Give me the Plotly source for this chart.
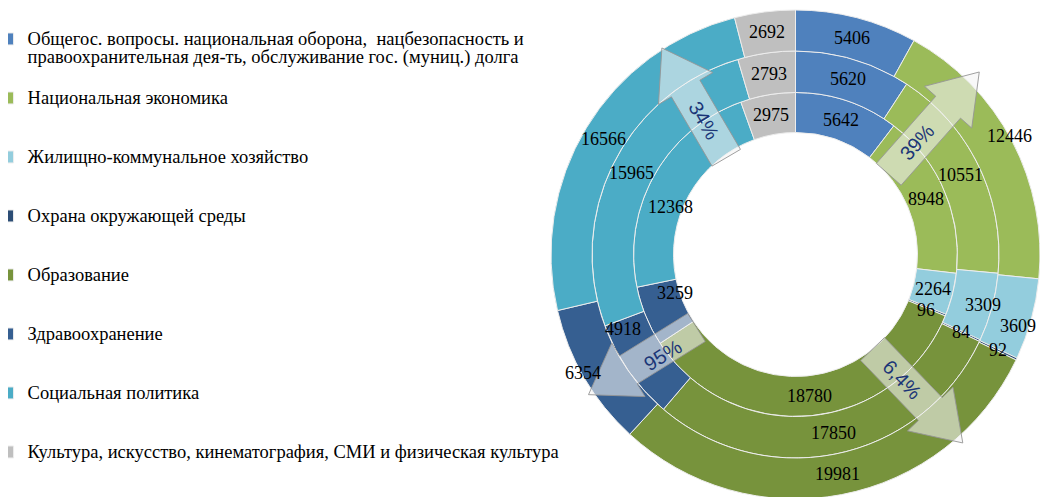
import math
import plotly.graph_objects as go

# ---------------- data ----------------
CATEGORIES = [
    "Общегос. вопросы. национальная оборона,\u00a0 нацбезопасность и<br>правоохранительная дея-ть, обслуживание гос. (муниц.) долга",
    "Национальная экономика",
    "Жилищно-коммунальное хозяйство",
    "Охрана окружающей среды",
    "Образование",
    "Здравоохранение",
    "Социальная политика",
    "Культура, искусство, кинематография, СМИ и физическая культура",
]
INNER_VALUES = [5642, 8948, 2264, 96, 18780, 3259, 12368, 2975]
MIDDLE_VALUES = [5620, 10551, 3309, 84, 17850, 4918, 15965, 2793]
OUTER_VALUES = [5406, 12446, 3609, 92, 19981, 6354, 16566, 2692]
# categories whose growth (inner -> outer ring) is marked with an arrow
ARROW_CATEGORIES = [1, 4, 5, 6]

# ---------------- style ----------------
COLORS = ["#4F81BD", "#9BBB59", "#93CDDD", "#2C4D75",
          "#77933C", "#365F91", "#4BACC6", "#BFBFBF"]
W, H = 1048, 497
CX, CY = 787.5, 246.5               # pixel centre of the rings (figure coords)
RADII = [122, 162, 203.5, 244.5]    # hole, ring borders, outer edge
SERIF = "Liberation Serif"
LABEL_SIZE = 18
LEGEND_SIZE = 18.5
# manual label nudges (ring index, category index) -> (d radius px, d angle deg)
LABEL_NUDGE = {(0, 5): (-15, 4.7), (1, 5): (5, 11.6), (2, 5): (19, 1.2),
               (2, 1): (21, -1.4), (0, 6): (-8, -8.5), (1, 2): (11, 0),
               (2, 2): (10, 2.5), (0, 3): (0, 1.0)}
# arrow geometry (tail angle, tip angle, tail radius, tip radius, text side shift px)
ARROW_GEOM = [(49.3, 45.2, 123, 259, 0), (140.8, 138.4, 122, 252, 0),
              (233.6, 235.9, 123, 250, -6), (324.4, 327.1, 119, 246, 0)]
SHAFT_W, HEAD_W, HEAD_L, TEXT_OFF = 33, 63, 47, 43


def legend_label(name, last):
    lines = ['<span style="font-size:%spx">%s</span>' % (LEGEND_SIZE, s)
             for s in name.split("<br>")]
    if not last:
        while len(lines) < 3:
            lines.append(" ")
    return "<br>".join(lines)


LABELS = [legend_label(c, i == len(CATEGORIES) - 1) for i, c in enumerate(CATEGORIES)]


def domain_for(r):
    return dict(x=[(CX - r) / W, (CX + r) / W],
                y=[(H - CY - r) / H, (H - CY + r) / H])


def pol(r, deg):
    a = math.radians(deg)
    return CX + r * math.sin(a), CY - r * math.cos(a)


def to_paper(x, y):
    return x / W, 1 - y / H


fig = go.Figure()
annotations = []
rings = [(INNER_VALUES, RADII[1], RADII[0]),
         (MIDDLE_VALUES, RADII[2], RADII[1]),
         (OUTER_VALUES, RADII[3], RADII[2])]
for k, (vals, r_out, r_in) in enumerate(rings):
    fig.add_trace(go.Pie(
        labels=LABELS, values=vals, sort=False, direction="clockwise", rotation=0,
        hole=r_in / r_out, domain=domain_for(r_out),
        marker=dict(colors=COLORS, line=dict(color="#EDEDED", width=1)),
        textinfo="none", showlegend=(k == 2), hoverinfo="label+value",
    ))
    # value labels at the middle of each slice
    total = float(sum(vals))
    cum = 0.0
    r_mid = (r_out + r_in) / 2
    for j, v in enumerate(vals):
        ang = (cum + v / 2) / total * 360
        cum += v
        dr, da = LABEL_NUDGE.get((k, j), (0, 0))
        ax, ay = to_paper(*pol(r_mid + dr, ang + da))
        annotations.append(dict(x=ax, y=ay, xref="paper", yref="paper", text=str(v),
                                showarrow=False, xanchor="center", yanchor="middle",
                                font=dict(family=SERIF, size=LABEL_SIZE, color="black")))


def growth_text(i):
    g = (OUTER_VALUES[i] / INNER_VALUES[i] - 1) * 100
    if g < 10:
        return ("%.1f" % g).replace(".", ",") + "%"
    return "%.0f%%" % g


shapes = []
for i, (ta, pa, tr, pr, side) in zip(ARROW_CATEGORIES, ARROW_GEOM):
    tx, ty = pol(tr, ta)
    px, py = pol(pr, pa)
    L = math.hypot(px - tx, py - ty)
    ux, uy = (px - tx) / L, (py - ty) / L
    nx, ny = -uy, ux
    jx, jy = px - ux * HEAD_L, py - uy * HEAD_L
    w1, w2 = SHAFT_W / 2, HEAD_W / 2
    pts = [(tx + nx * w1, ty + ny * w1), (jx + nx * w1, jy + ny * w1),
           (jx + nx * w2, jy + ny * w2), (px, py),
           (jx - nx * w2, jy - ny * w2), (jx - nx * w1, jy - ny * w1),
           (tx - nx * w1, ty - ny * w1)]
    pp = [to_paper(*p) for p in pts]
    path = "M " + " L ".join("%.5f,%.5f" % p for p in pp) + " Z"
    shapes.append(dict(type="path", path=path, xref="paper", yref="paper",
                       fillcolor="rgba(243,243,243,0.58)",
                       line=dict(color="rgba(150,150,150,0.9)", width=1),
                       layer="above"))
    cx_, cy_ = tx + ux * TEXT_OFF + nx * side, ty + uy * TEXT_OFF + ny * side
    ang = math.degrees(math.atan2(uy, ux))
    if ang > 90:
        ang -= 180
    elif ang <= -90:
        ang += 180
    ax, ay = to_paper(cx_, cy_)
    annotations.append(dict(x=ax, y=ay, xref="paper", yref="paper",
                            text=growth_text(i), showarrow=False,
                            textangle=ang, xanchor="center", yanchor="middle",
                            font=dict(family="Liberation Sans", size=20, color="#1B3577")))

fig.update_layout(
    width=W, height=H, autosize=False,
    margin=dict(l=0, r=0, t=0, b=0, pad=0, autoexpand=False),
    paper_bgcolor="white", plot_bgcolor="white",
    legend=dict(x=-0.0195, xanchor="left", y=0.9696, yanchor="top",
                valign="top", bgcolor="rgba(0,0,0,0)", traceorder="normal",
                font=dict(family=SERIF, size=14.36, color="black")),
    shapes=shapes, annotations=annotations,
)

fig.write_html("out.html")
